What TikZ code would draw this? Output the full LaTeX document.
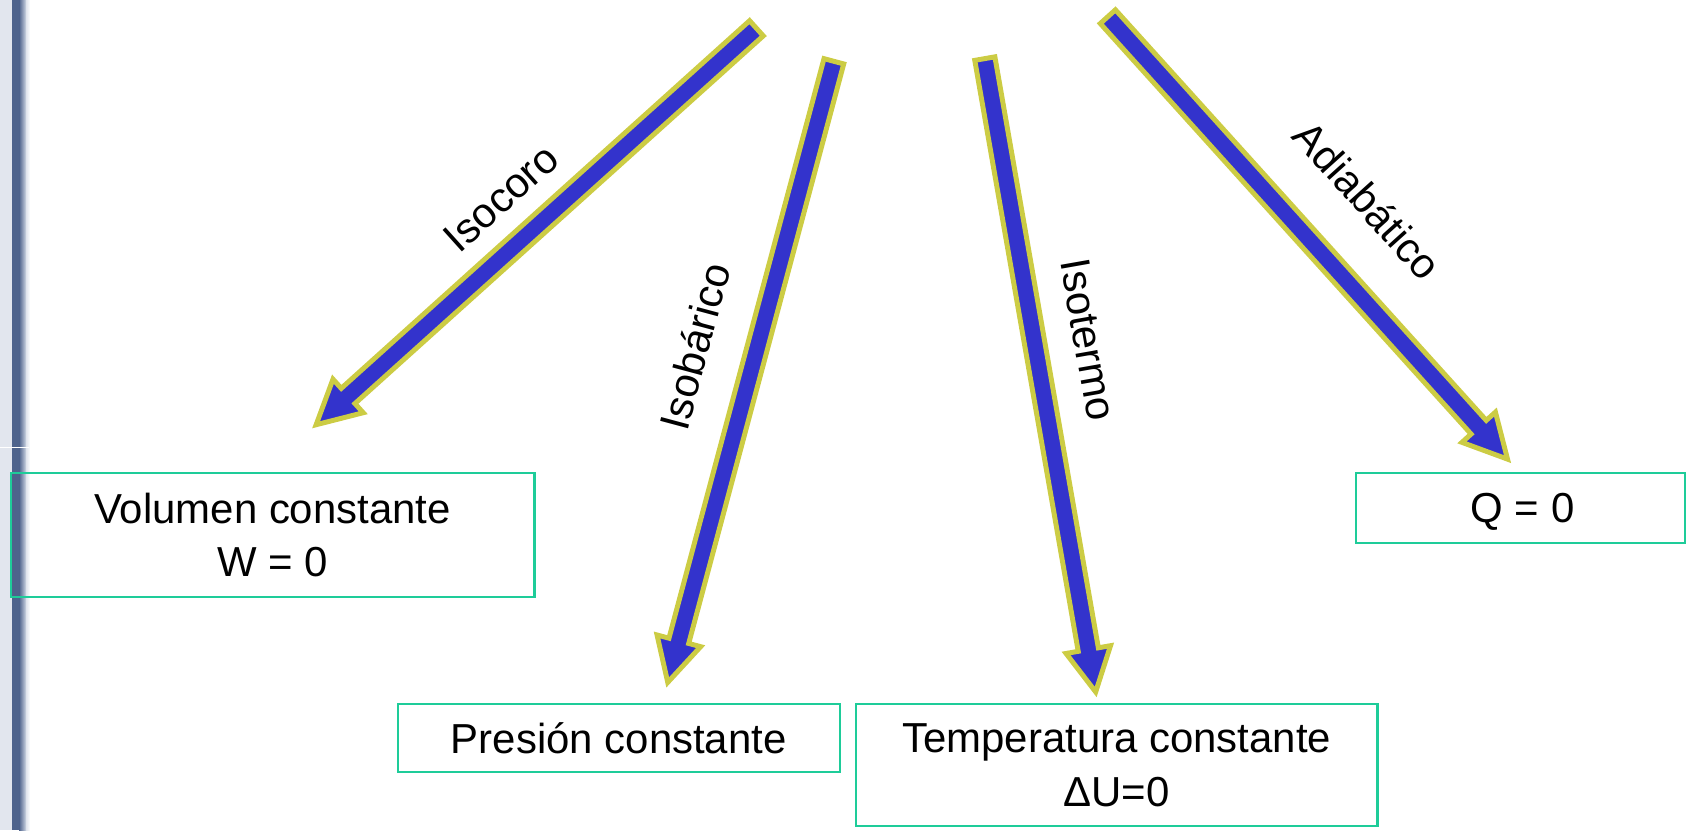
\documentclass[tikz,border=0pt]{standalone}
\usepackage{fontspec}
\setmainfont{Liberation Sans}
\usetikzlibrary{calc}
\definecolor{arrowblue}{RGB}{51,51,204}
\definecolor{arrowyellow}{RGB}{204,204,68}
\definecolor{boxgreen}{RGB}{30,204,153}
\definecolor{stripdark}{RGB}{78,99,140}
\definecolor{stripmid}{RGB}{120,140,175}
\definecolor{stripbg}{RGB}{226,230,238}
\newcommand\blkarrow[3]{%
  \coordinate (#3) at ($(#2)!40pt!(#1)$);
  \draw[blockarrow] ($(#1)!9.5pt!90:(#2)$) -- ($(#3)!9.5pt!90:(#2)$) -- ($(#3)!21pt!90:(#2)$)
    -- (#2) -- ($(#3)!21pt!-90:(#2)$) -- ($(#3)!9.5pt!-90:(#2)$) -- ($(#1)!9.5pt!-90:(#2)$) -- cycle;}
\begin{document}
\begin{tikzpicture}[x=1pt,y=-1pt,
  blockarrow/.style={fill=arrowblue,draw=arrowyellow,line width=4.6pt,line join=miter},
  infobox/.style={draw=boxgreen,line width=2.2pt,inner sep=0pt,align=center,
    font=\fontsize{39}{50}\selectfont},
  arrowlabel/.style={inner sep=0pt,font=\fontsize{39}{46}\selectfont}]
\useasboundingbox (0,0) rectangle (1568,772);
% left slide strip
\fill[stripbg] (0,0) rectangle (11.2,772);
\fill[stripdark] (11.2,0) rectangle (17.7,772);
\shade[left color=stripdark,right color=stripmid!40!white] (17.7,0) rectangle (24,772);
\shade[left color=stripmid!25!white,right color=white] (24,0) rectangle (28,772);
\draw[white,line width=0.8pt] (0,416) -- (27,416);
% boxes
\node[infobox,minimum width=487pt,minimum height=115pt] (vol) at (253.5,497.5) {Volumen constante\\W = 0};
\node[infobox,minimum width=411pt,minimum height=63pt] (pres) at (575.5,686.5) {Presión constante};
\node[infobox,minimum width=485pt,minimum height=113pt] (temp) at (1038.5,711.5) {Temperatura constante\\ΔU=0};
\node[infobox,minimum width=306pt,minimum height=65pt] (q) at (1414,472.5) {};
\node[inner sep=0pt,font=\fontsize{39}{50}\selectfont] (qtext) at (1416,476) {Q = 0};
% arrows
\coordinate (t1) at (703.5,26.3);  \coordinate (p1) at (294,395);
\coordinate (t2) at (775.5,57);    \coordinate (p2) at (621,634.6);
\coordinate (t3) at (915.9,54.5);  \coordinate (p3) at (1019,643.5);
\coordinate (t4) at (1030.3,15.5); \coordinate (p4) at (1402,427);
\blkarrow{t1}{p1}{b1}
\blkarrow{t2}{p2}{b2}
\blkarrow{t3}{p3}{b3}
\blkarrow{t4}{p4}{b4}
% labels
\node[arrowlabel,rotate=42] (l1) at (466,184) {Isocoro};
\node[arrowlabel,rotate=75] (l2) at (646,322) {Isobárico};
\node[arrowlabel,rotate=-80] (l3) at (1012,316) {Isotermo};
\node[arrowlabel,rotate=-48] (l4) at (1272,186) {Adiabático};
\end{tikzpicture}
\end{document}
